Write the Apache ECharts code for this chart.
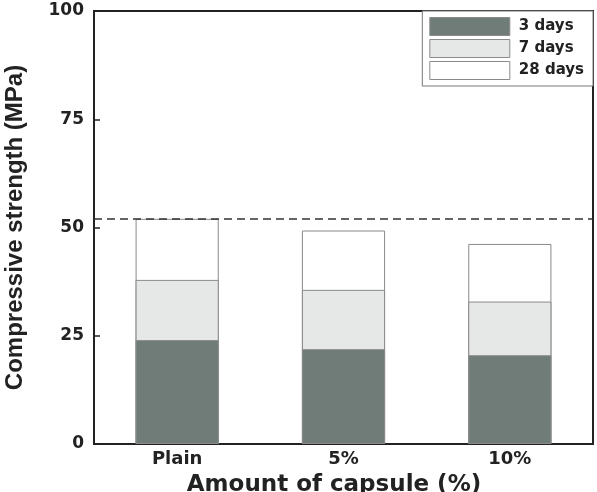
<!DOCTYPE html>
<html>
<head>
<meta charset="utf-8">
<script src="https://cdn.jsdelivr.net/npm/echarts@6/dist/echarts.min.js"></script>
<style>
  html, body { margin: 0; padding: 0; background: #fff; }
  #chart { width: 597px; height: 492px; }
</style>
</head>
<body>
<div id="chart"></div>
<script>
// data (MPa, cumulative strength at each age)
const categories = ['Plain', '5%', '10%'];
const days3 = [24.0, 21.9, 20.5];
const days7 = [37.9, 35.6, 32.9];
const days28 = [52.0, 49.3, 46.2];
const referenceLine = 52;
const yTicks = [0, 25, 50, 75, 100];

// the source image is stretched sideways, a wide bold face fits the flat text best
const WIDE = "'DejaVu Sans', sans-serif";
const ARIAL = "'Liberation Sans', Arial, sans-serif";
const edge = '#8a8a8a';

function barSeries(name, data, color) {
  return {
    name: name,
    type: 'bar',
    data: data,
    barWidth: '50%',
    barGap: '-100%',
    itemStyle: { color: color, borderColor: edge, borderWidth: 1 }
  };
}

const series = [
  barSeries('28 days', days28, '#ffffff'),
  barSeries('7 days', days7, '#e6e8e8'),
  barSeries('3 days', days3, '#6f7c78')
];
series[0].markLine = {
  symbol: 'none',
  silent: true,
  label: { show: false },
  lineStyle: { color: '#333', type: [8, 5], width: 1.5 },
  data: [{ yAxis: referenceLine }]
};

const chart = echarts.init(document.getElementById('chart'));
chart.setOption({
  animation: false,
  textStyle: { fontFamily: WIDE },
  grid: {
    left: 94, right: 4, top: 11, bottom: 48,
    containLabel: false,
    outerBoundsMode: 'none',
    show: true,
    borderColor: '#222',
    borderWidth: 2,
    backgroundColor: 'transparent'
  },
  legend: {
    data: ['3 days', '7 days', '28 days'],
    orient: 'vertical',
    right: 4,
    top: 11,
    icon: 'rect',
    itemWidth: 80,
    itemHeight: 18,
    itemGap: 3,
    padding: [6, 9, 6, 7],
    borderColor: '#777',
    borderWidth: 1,
    backgroundColor: '#fff',
    textStyle: { fontFamily: WIDE, fontWeight: 'bold', fontSize: 15, color: '#222', padding: [0, 0, 0, 4] },
    itemStyle: { borderColor: edge, borderWidth: 1 }
  },
  xAxis: {
    type: 'category',
    data: categories,
    name: 'Amount of capsule (%)',
    nameLocation: 'middle',
    nameGap: 30,
    nameTextStyle: { fontFamily: WIDE, fontWeight: 'bold', fontSize: 23, color: '#222', padding: [0, 19, 0, 0] },
    axisLine: { lineStyle: { color: '#222', width: 2 } },
    axisTick: { show: false },
    axisLabel: { fontFamily: WIDE, fontWeight: 'bold', fontSize: 18, color: '#222', margin: 6 }
  },
  yAxis: {
    type: 'value',
    min: yTicks[0],
    max: yTicks[yTicks.length - 1],
    interval: 25,
    name: 'Compressive strength (MPa)',
    nameLocation: 'middle',
    nameGap: 67,
    nameTextStyle: { fontFamily: ARIAL, fontWeight: 'bold', fontSize: 24, color: '#222' },
    axisLine: { show: true, lineStyle: { color: '#222', width: 2 } },
    axisTick: { show: true, inside: true, length: 6, lineStyle: { color: '#222', width: 1.5 } },
    axisLabel: { fontFamily: WIDE, fontWeight: 'bold', fontSize: 17, color: '#222', margin: 10 },
    splitLine: { show: false }
  },
  series: series
});
</script>
</body>
</html>
